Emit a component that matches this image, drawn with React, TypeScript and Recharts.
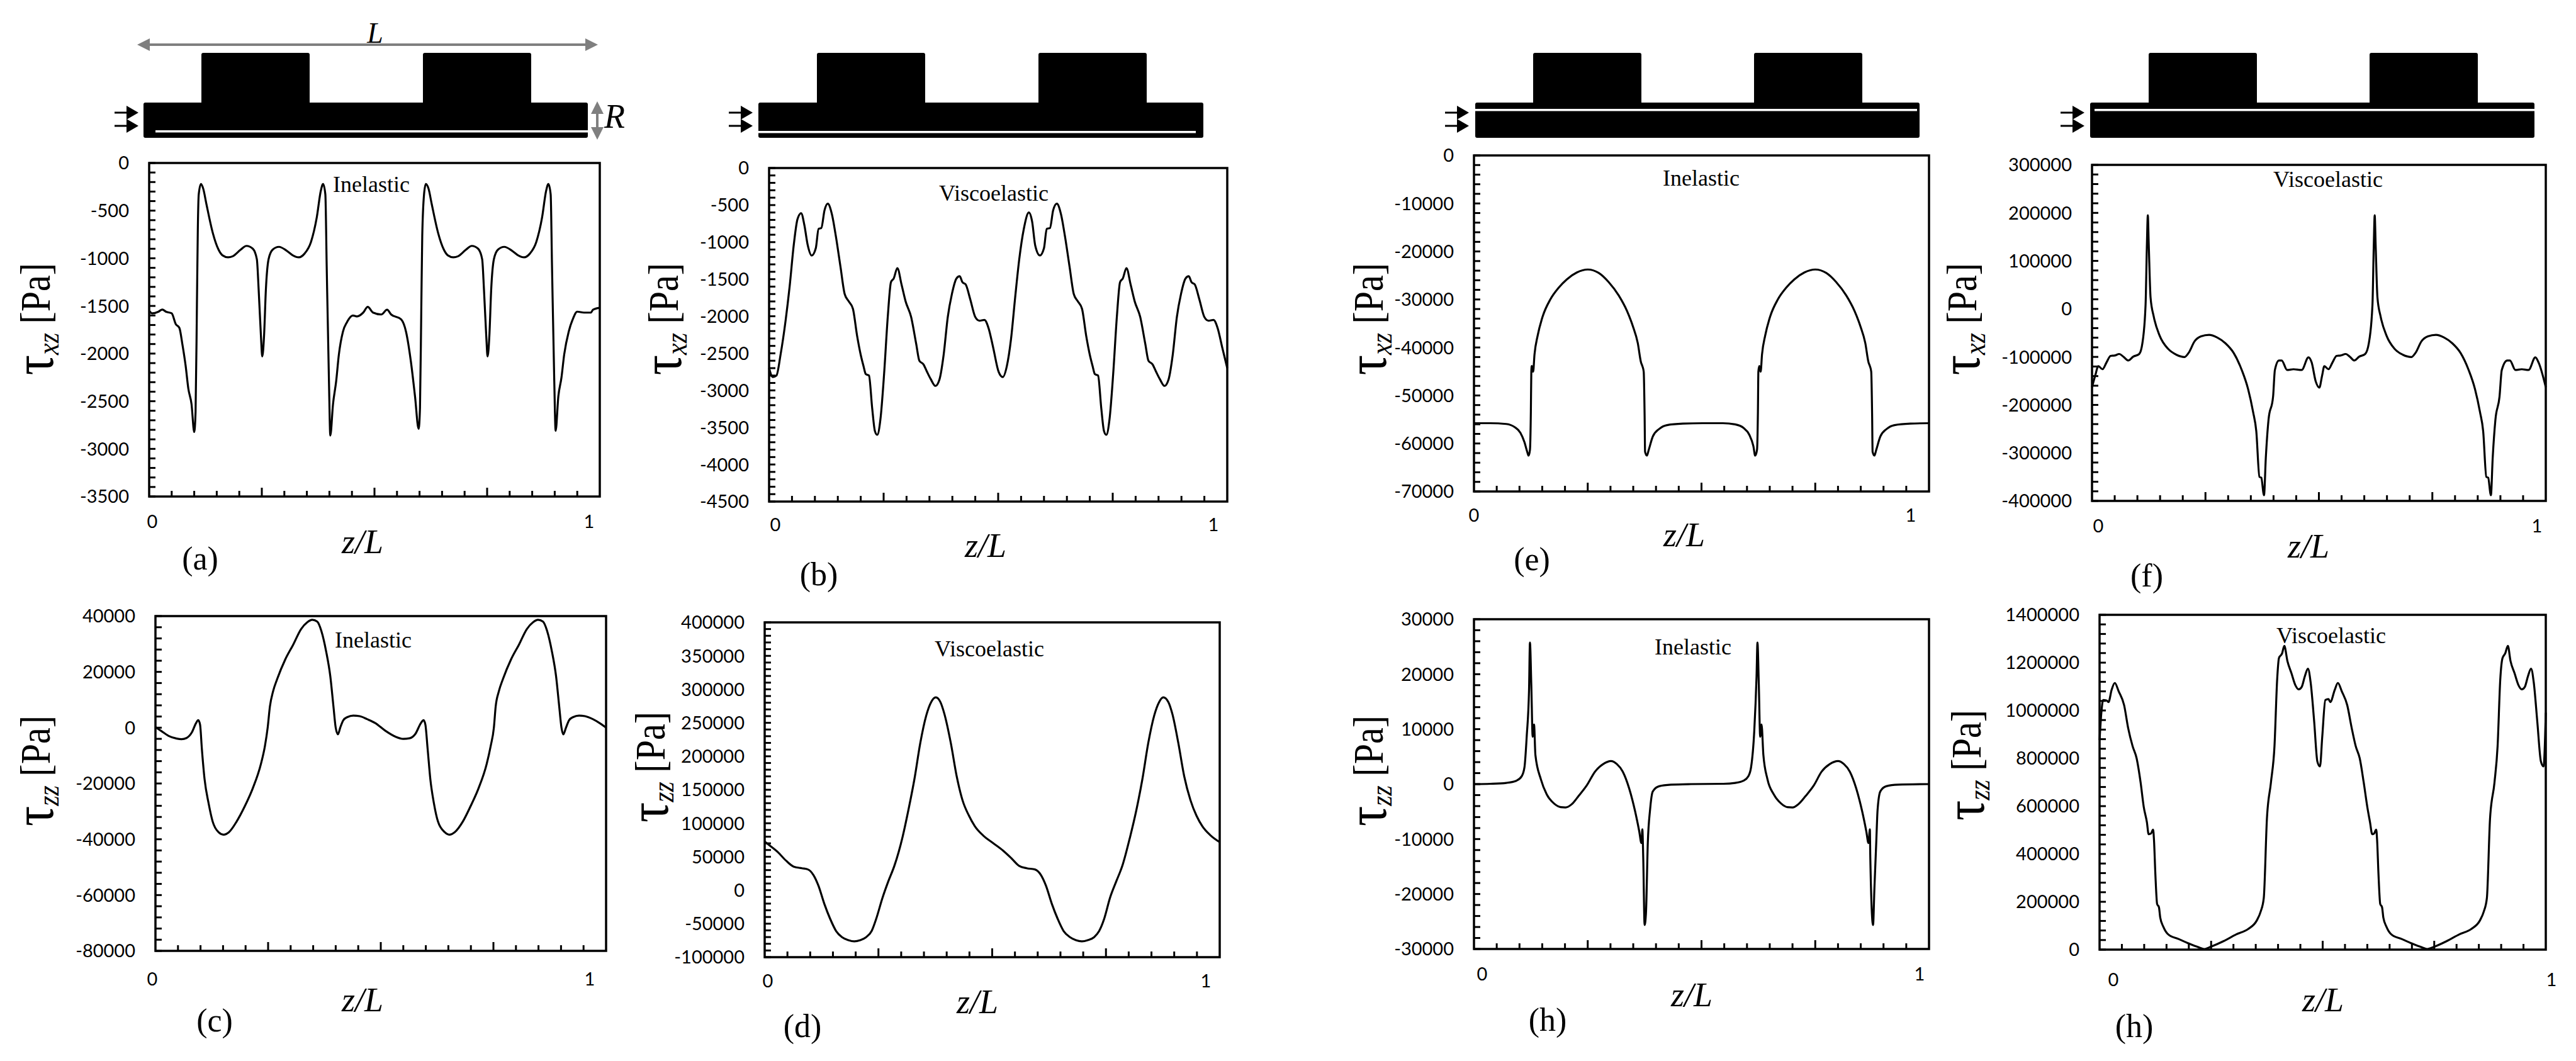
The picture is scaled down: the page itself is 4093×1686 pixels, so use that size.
import React from "react";
import { LineChart, Line, XAxis, YAxis, ReferenceArea } from "recharts";

const zA = [0,.007,.02,.029,.038,.05,.059,.067,.074,.081,.087,.094,.1,.103,.106,.108,.11,.115,.12,.127,.141,.154,.163,.175,.185,.203,.216,.23,.239,.243,.248,.251,.255,.259,.265,.274,.288,.305,.319,.332,.345,.359,.372,.381,.386,.391,.394,.399,.402,.408,.415,.421,.43,.439,.452,.461,.475,.485,.497,.515,.528,.537,.559,.57,.581,.59,.598,.601,.604,.606,.61,.614,.62,.627,.641,.654,.663,.675,.685,.703,.716,.73,.739,.743,.748,.751,.755,.759,.765,.774,.788,.805,.819,.832,.845,.859,.872,.881,.886,.891,.894,.899,.902,.908,.915,.921,.931,.94,.95,.965,.98,.985,1];
const tauA = [-1550,-1578,-1562,-1538,-1562,-1578,-1690,-1730,-1910,-2130,-2370,-2530,-2823,-2610,-1490,-690,-330,-220,-270,-430,-730,-910,-970,-990,-980,-910,-870,-900,-1010,-1330,-1810,-2030,-1810,-1330,-1010,-910,-880,-920,-970,-990,-950,-830,-570,-290,-220,-330,-1090,-2290,-2860,-2530,-2290,-2010,-1770,-1670,-1600,-1610,-1570,-1510,-1570,-1590,-1540,-1590,-1640,-1770,-2090,-2450,-2790,-2570,-1490,-770,-330,-220,-270,-430,-730,-910,-970,-990,-980,-910,-870,-900,-1010,-1330,-1810,-2030,-1810,-1330,-1010,-910,-880,-920,-970,-990,-950,-830,-570,-290,-220,-330,-1090,-2290,-2810,-2450,-2250,-2010,-1770,-1640,-1560,-1570,-1570,-1540,-1520];

const zB = [0,.008,.016,.025,.036,.045,.054,.062,.07,.077,.084,.093,.102,.108,.114,.121,.128,.137,.146,.156,.165,.174,.183,.192,.2,.206,.211,.218,.225,.231,.236,.243,.251,.259,.266,.272,.28,.289,.298,.31,.321,.328,.337,.344,.353,.363,.372,.381,.39,.399,.409,.416,.422,.429,.439,.45,.459,.47,.479,.489,.501,.51,.519,.528,.537,.546,.556,.567,.574,.581,.591,.6,.606,.613,.62,.628,.637,.646,.656,.665,.674,.683,.692,.7,.706,.711,.718,.725,.731,.736,.743,.751,.759,.766,.772,.78,.789,.798,.81,.821,.828,.837,.844,.853,.863,.872,.881,.89,.899,.909,.916,.922,.929,.939,.95,.959,.97,.979,.989,1];
const tauB = [-2700,-2820,-2800,-2520,-2060,-1590,-1030,-690,-610,-770,-1030,-1180,-1080,-820,-810,-570,-480,-620,-930,-1340,-1700,-1800,-1900,-2260,-2520,-2670,-2780,-2800,-3240,-3550,-3600,-3390,-2780,-2010,-1540,-1490,-1350,-1570,-1800,-2010,-2370,-2600,-2650,-2740,-2850,-2940,-2850,-2520,-2010,-1700,-1490,-1460,-1540,-1570,-1770,-2010,-2060,-2050,-2160,-2420,-2750,-2820,-2670,-2310,-1750,-1230,-820,-600,-720,-1050,-1180,-1080,-820,-810,-570,-480,-620,-930,-1340,-1700,-1800,-1900,-2260,-2520,-2670,-2780,-2800,-3240,-3550,-3600,-3390,-2780,-2010,-1540,-1490,-1350,-1570,-1800,-2010,-2370,-2600,-2650,-2740,-2850,-2940,-2850,-2520,-2010,-1700,-1490,-1460,-1540,-1570,-1770,-2010,-2060,-2050,-2160,-2420,-2700];

const zC = [0,.012,.029,.047,.058,.069,.081,.09,.095,.099,.103,.109,.118,.127,.14,.151,.163,.18,.198,.216,.234,.243,.249,.254,.261,.27,.288,.306,.323,.337,.348,.359,.368,.379,.388,.395,.4,.405,.41,.417,.426,.439,.453,.47,.488,.51,.533,.55,.564,.577,.589,.595,.599,.604,.61,.618,.627,.642,.652,.664,.682,.699,.717,.735,.744,.751,.755,.762,.771,.789,.807,.824,.838,.849,.86,.869,.88,.889,.896,.901,.905,.911,.918,.927,.94,.953,.971,.989,1];
const tauC = [200,-1090,-2930,-3910,-4130,-3690,-1630,1630,2720,1090,-7600,-18460,-27150,-33670,-37470,-38340,-37470,-33670,-28240,-21720,-13030,-6520,0,7600,13030,17380,24440,29870,35300,37790,38660,38010,34750,27150,18460,7600,0,-2390,0,2720,3800,4340,4130,3040,1630,-1090,-3260,-4020,-3800,-2170,1630,2720,1090,-7600,-18460,-27150,-33670,-37470,-38340,-37470,-33670,-28240,-21720,-13030,-6520,0,7600,13030,17380,24440,29870,35300,37790,38660,38010,34750,27150,18460,7600,0,-2390,0,2720,3800,4340,4130,3040,1300,0];

const zD = [0,.011,.029,.047,.064,.082,.095,.107,.118,.131,.144,.157,.17,.184,.197,.21,.223,.235,.245,.259,.272,.285,.303,.316,.329,.342,.355,.366,.376,.386,.395,.409,.422,.435,.449,.462,.48,.502,.524,.542,.559,.576,.594,.607,.618,.631,.644,.657,.671,.684,.697,.71,.724,.735,.746,.759,.773,.786,.803,.817,.83,.843,.856,.867,.876,.887,.896,.909,.922,.936,.949,.962,.98,1];
const tauD = [72700,66800,56800,44100,35100,32800,31000,22800,7000,-20200,-42900,-61000,-70100,-74600,-76400,-74600,-70100,-61000,-42900,-11200,13800,36400,79500,120300,165600,220000,260800,281200,288000,281200,263100,220000,170100,133900,111200,95400,81800,70400,59100,47800,36400,32800,31000,22800,7000,-20200,-42900,-61000,-70100,-74600,-76400,-74600,-70100,-61000,-42900,-11200,13800,36400,79500,120300,165600,220000,260800,281200,288000,281200,263100,220000,170100,133900,111200,95400,81800,71800];

const zE = [0,.036,.071,.089,.102,.111,.117,.12,.123,.125,.126,.127,.13,.133,.14,.151,.168,.186,.204,.226,.25,.274,.296,.318,.336,.349,.36,.367,.37,.373,.375,.376,.38,.384,.393,.407,.424,.459,.503,.547,.574,.592,.605,.614,.618,.622,.624,.625,.627,.63,.633,.64,.651,.668,.686,.704,.726,.75,.774,.796,.818,.836,.849,.86,.867,.87,.873,.875,.876,.88,.884,.893,.907,.924,.959,1];
const tauE = [-55780,-55780,-55940,-56570,-57770,-59750,-61740,-62530,-61340,-53400,-45050,-43860,-45050,-41480,-37510,-33530,-29960,-27570,-25820,-24390,-23760,-24470,-26380,-29160,-32340,-35520,-39090,-43070,-43860,-45050,-54190,-61740,-62530,-61340,-58560,-56970,-56180,-55860,-55780,-55780,-56020,-56730,-58170,-60550,-62530,-61340,-53400,-45050,-43860,-45050,-41480,-37510,-33530,-29960,-27570,-25820,-24390,-23760,-24470,-26380,-29160,-32340,-35520,-39090,-43070,-43860,-45050,-54190,-61740,-62530,-61340,-58560,-56970,-56180,-55860,-55780];

const zF = [0,.007,.014,.023,.032,.041,.05,.06,.069,.08,.091,.104,.111,.118,.121,.123,.125,.129,.136,.149,.168,.186,.204,.213,.226,.24,.258,.276,.294,.312,.33,.344,.355,.362,.369,.373,.379,.383,.389,.399,.403,.412,.418,.43,.444,.462,.477,.484,.493,.501,.507,.512,.521,.53,.539,.548,.559,.568,.578,.589,.602,.61,.618,.621,.623,.625,.629,.636,.649,.667,.685,.704,.713,.726,.74,.758,.776,.794,.812,.83,.844,.855,.862,.869,.873,.879,.883,.889,.898,.903,.915,.921,.933,.947,.962,.977,.984,1];
const tauF = [-163100,-139200,-119300,-125700,-111400,-97800,-97100,-93900,-99400,-107400,-99400,-93900,-71600,8000,135200,194900,135200,23900,-15900,-55700,-83500,-95500,-100200,-91500,-67600,-57300,-54100,-59700,-71600,-91500,-127300,-167100,-214800,-254600,-350000,-351600,-388200,-310200,-230700,-183000,-127300,-107400,-107400,-127300,-125700,-127300,-101000,-111400,-151100,-163900,-139200,-119300,-125700,-111400,-97800,-97100,-93900,-99400,-107400,-99400,-93900,-71600,8000,135200,194900,135200,23900,-15900,-55700,-83500,-95500,-100200,-91500,-67600,-57300,-54100,-59700,-71600,-91500,-127300,-167100,-214800,-254600,-350000,-351600,-388200,-310200,-230700,-183000,-127300,-107400,-107400,-127300,-125700,-127300,-101000,-111400,-163100];

const zG = [0,.036,.071,.093,.105,.111,.116,.121,.123,.126,.129,.132,.135,.147,.16,.176,.191,.201,.215,.23,.248,.266,.284,.301,.314,.327,.341,.354,.363,.368,.37,.372,.375,.378,.382,.387,.393,.407,.433,.477,.548,.574,.592,.603,.609,.616,.621,.623,.626,.629,.632,.636,.645,.659,.675,.689,.7,.713,.729,.747,.764,.782,.8,.813,.826,.84,.853,.862,.867,.87,.871,.877,.88,.884,.887,.893,.906,.932,1];
const tauG = [0,55,220,610,1440,3090,8840,17130,25750,18010,8620,10830,5300,880,-1880,-3540,-4200,-4250,-3650,-2150,-220,2270,3650,4200,3650,2270,-770,-4920,-8510,-10720,-8230,-13480,-25640,-23430,-10720,-4640,-1330,-390,-110,0,55,220,610,1440,3090,9720,19670,25750,18010,8620,10830,5300,880,-1880,-3540,-4200,-4250,-3650,-2150,-220,2270,3650,4200,3650,2270,-770,-4920,-8510,-10720,-8230,-13480,-25640,-19000,-10720,-4640,-1330,-390,-110,0];

const zH = [0,.004,.008,.016,.02,.027,.034,.043,.055,.064,.074,.083,.092,.099,.106,.11,.115,.12,.122,.125,.129,.133,.136,.143,.154,.177,.2,.223,.234,.25,.278,.306,.333,.352,.361,.368,.375,.384,.392,.398,.402,.409,.414,.421,.43,.439,.446,.453,.46,.467,.473,.481,.488,.494,.499,.506,.513,.517,.527,.534,.543,.555,.565,.574,.583,.592,.6,.606,.611,.615,.62,.622,.625,.629,.633,.636,.643,.654,.677,.7,.723,.734,.751,.778,.806,.833,.852,.861,.868,.875,.885,.892,.898,.903,.909,.915,.921,.93,.939,.946,.953,.96,.967,.973,.981,.989,.995,1];
const tauH = [876300,990600,1043900,1041400,1035000,1085900,1115100,1079500,1022400,927100,850900,800100,698500,596900,533400,482600,485100,501700,457200,317500,190500,177800,133400,95300,63500,44500,25400,8900,2500,12700,35600,63500,86400,120700,158800,215900,546100,698500,850900,1130300,1219200,1238300,1270000,1206500,1155700,1104900,1088400,1098600,1143000,1174800,1117600,952500,787400,765800,889000,1043900,1047800,1035000,1085900,1115100,1079500,1022400,927100,850900,800100,698500,596900,533400,482600,485100,501700,457200,317500,190500,177800,133400,95300,63500,44500,25400,8900,2500,12700,35600,63500,86400,120700,158800,215900,546100,698500,850900,1130300,1219200,1238300,1270000,1206500,1155700,1104900,1088400,1098600,1143000,1174800,1117600,952500,787400,765800,990600];

const SERIF = "'Liberation Serif', serif";
const SANS = "Lato, sans-serif";
const X_TICKS = Array.from({ length: 21 }, (_, i) => i / 20);

type P = {
  z: number[]; tau: number[]; min: number; max: number; minor: number; major: number;
  bx: number; by: number; bw: number; bh: number;
  x0: number; x1: number; xb: number;
  note: string; nx: number; ny: number;
  zx: number; zy: number; tag: string; tx: number; ty: number;
  sub: string; lx: number; ly: number;
};

const panels: P[] = [
  { z: zA, tau: tauA, min: -3500, max: 0, minor: 100, major: 500, bx: 237, by: 259, bw: 716, bh: 530, x0: 5, x1: -17, xb: 50, note: "Inelastic", nx: 590, ny: 305, zx: 576, zy: 879, tag: "(a)", tx: 318, ty: 905, sub: "xz", lx: 84, ly: 507 },
  { z: zB, tau: tauB, min: -4500, max: 0, minor: 100, major: 500, bx: 1222, by: 267, bw: 728, bh: 530, x0: 10, x1: -22, xb: 47, note: "Viscoelastic", nx: 1579, ny: 319, zx: 1566, zy: 885, tag: "(b)", tx: 1301, ty: 930, sub: "xz", lx: 1082, ly: 507 },
  { z: zC, tau: tauC, min: -80000, max: 40000, minor: 4000, major: 20000, bx: 247, by: 979, bw: 716, bh: 532, x0: -5, x1: -26, xb: 55, note: "Inelastic", nx: 593, ny: 1029, zx: 576, zy: 1607, tag: "(c)", tx: 341, ty: 1639, sub: "zz", lx: 84, ly: 1225 },
  { z: zD, tau: tauD, min: -100000, max: 400000, minor: 10000, major: 50000, bx: 1215, by: 989, bw: 723, bh: 532, x0: 5, x1: -22, xb: 48, note: "Viscoelastic", nx: 1572, ny: 1043, zx: 1553, zy: 1610, tag: "(d)", tx: 1275, ty: 1648, sub: "zz", lx: 1061, ly: 1219 },
  { z: zE, tau: tauE, min: -70000, max: 0, minor: 2000, major: 10000, bx: 2342, by: 247, bw: 723, bh: 534, x0: 0, x1: -29, xb: 48, note: "Inelastic", nx: 2703, ny: 295, zx: 2676, zy: 868, tag: "(e)", tx: 2434, ty: 906, sub: "xz", lx: 2202, ly: 507 },
  { z: zF, tau: tauF, min: -400000, max: 300000, minor: 20000, major: 100000, bx: 3324, by: 262, bw: 721, bh: 534, x0: 10, x1: -14, xb: 50, note: "Viscoelastic", nx: 3699, ny: 297, zx: 3668, zy: 886, tag: "(f)", tx: 3411, ty: 932, sub: "xz", lx: 3145, ly: 507 },
  { z: zG, tau: tauG, min: -30000, max: 30000, minor: 2000, major: 10000, bx: 2342, by: 984, bw: 723, bh: 524, x0: 13, x1: -15, xb: 50, note: "Inelastic", nx: 2690, ny: 1040, zx: 2688, zy: 1599, tag: "(h)", tx: 2459, ty: 1638, sub: "zz", lx: 2202, ly: 1225 },
  { z: zH, tau: tauH, min: 0, max: 1400000, minor: 40000, major: 200000, bx: 3336, by: 977, bw: 709, bh: 532, x0: 22, x1: 9, xb: 58, note: "Viscoelastic", nx: 3704, ny: 1022, zx: 3691, zy: 1607, tag: "(h)", tx: 3391, ty: 1648, sub: "zz", lx: 3152, ly: 1216 },
];

type S = { bx: number; bw: number; b1: number; b2: number; wx: number; ww: number; wy: number; ax: number };
const schematics: S[] = [
  { bx: 228, bw: 706, b1: 320, b2: 672, wx: 247, ww: 687, wy: 207, ax: 182 },
  { bx: 1205, bw: 707, b1: 1298, b2: 1650, wx: 1205, ww: 695, wy: 208, ax: 1158 },
  { bx: 2344, bw: 706, b1: 2436, b2: 2787, wx: 2344, ww: 702, wy: 173, ax: 2296 },
  { bx: 3321, bw: 706, b1: 3414, b2: 3765, wx: 3328, ww: 699, wy: 173, ax: 3274 },
];

function Panel({ p }: { p: P }) {
  const data = p.z.map((z, i) => ({ z, tau: p.tau[i] }));
  const yTicks: number[] = [];
  for (let v = p.min; v <= p.max; v += p.minor) yTicks.push(v);
  const left = 170;
  const top = 30;
  const right = 30;
  const axisH = 70;
  const xTick = (t: any) => {
    const v = t.payload.value;
    const i = Math.round(v * 20);
    const len = i % 5 === 0 ? 14 : 9;
    const lab = v === 0 ? "0" : v === 1 ? "1" : null;
    const dx = v === 0 ? p.x0 : p.x1;
    return (
      <g>
        {i > 0 && i < 20 && <line x1={t.x} x2={t.x} y1={t.y} y2={t.y - len} stroke="#000" strokeWidth={3} />}
        {lab && <text x={t.x + dx} y={t.y + p.xb} textAnchor="middle" fontFamily={SANS} fontSize={29} fill="#000">{lab}</text>}
      </g>
    );
  };
  const yTick = (t: any) => {
    const v = t.payload.value;
    return (
      <g>
        <line x1={t.x} x2={t.x + 10} y1={t.y} y2={t.y} stroke="#000" strokeWidth={3} />
        {v % p.major === 0 && (
          <text x={t.x - 32} y={t.y} dy="0.36em" textAnchor="end" fontFamily={SANS} fontSize={29} fill="#000">{String(v)}</text>
        )}
      </g>
    );
  };
  return (
    <div style={{ position: "absolute", left: p.bx - left, top: p.by - top }}>
      <LineChart
        width={p.bw + left + right}
        height={p.bh + top + axisH}
        data={data}
        margin={{ left: 0, right, top, bottom: 0 }}
      >
        <XAxis dataKey="z" type="number" domain={[0, 1]} ticks={X_TICKS} interval={0} height={axisH} axisLine={false} tickLine={false} tickSize={0} tickMargin={0} tick={xTick} />
        <YAxis type="number" domain={[p.min, p.max]} ticks={yTicks} interval={0} width={left} axisLine={false} tickLine={false} tickSize={0} tickMargin={0} tick={yTick} />
        <ReferenceArea x1={0} x2={1} y1={p.min} y2={p.max} fill="none" stroke="#000" strokeWidth={3.5} fillOpacity={0} />
        <Line dataKey="tau" type="monotoneX" stroke="#000" strokeWidth={3.2} dot={false} isAnimationActive={false} />
      </LineChart>
    </div>
  );
}

function Schematic({ s }: { s: S }) {
  const arrow = (y: number) => (
    <g key={y}>
      <line x1={s.ax} x2={s.ax + 22} y1={y} y2={y} stroke="#000" strokeWidth={3} />
      <polygon points={`${s.ax + 19},${y - 11} ${s.ax + 38},${y} ${s.ax + 19},${y + 11}`} fill="#000" />
    </g>
  );
  return (
    <g>
      <rect x={s.b1} y={84} width={172} height={84} rx={3} fill="#000" />
      <rect x={s.b2} y={84} width={172} height={84} rx={3} fill="#000" />
      <rect x={s.bx} y={163} width={s.bw} height={56} rx={3} fill="#000" />
      <rect x={s.wx} y={s.wy} width={s.ww} height={3.5} fill="#fff" />
      {arrow(179)}
      {arrow(200)}
    </g>
  );
}

function Annotations() {
  const gray = "#7f7f7f";
  return (
    <svg width={4093} height={1686} style={{ position: "absolute", left: 0, top: 0, pointerEvents: "none" }}>
      {schematics.map((s) => <Schematic key={s.bx} s={s} />)}
      <line x1={228} x2={940} y1={71} y2={71} stroke={gray} strokeWidth={4} />
      <polygon points="218,71 238,61 238,81" fill={gray} />
      <polygon points="950,71 930,61 930,81" fill={gray} />
      <line x1={949} x2={949} y1={170} y2={212} stroke={gray} strokeWidth={4} />
      <polygon points="949,161 939,181 959,181" fill={gray} />
      <polygon points="949,222 939,202 959,202" fill={gray} />
      <text x={596} y={68} textAnchor="middle" fontFamily={SERIF} fontStyle="italic" fontSize={46} fill="#000">L</text>
      <text x={960} y={203} fontFamily={SERIF} fontStyle="italic" fontSize={54} fill="#000">R</text>
      {panels.map((p) => (
        <g key={p.bx}>
          <text x={p.nx} y={p.ny} textAnchor="middle" fontFamily={SERIF} fontSize={36} fill="#000">{p.note}</text>
          <text x={p.zx} y={p.zy} textAnchor="middle" fontFamily={SERIF} fontStyle="italic" fontSize={54} fill="#000">z/L</text>
          <text x={p.tx} y={p.ty} textAnchor="middle" fontFamily={SERIF} fontSize={52} fill="#000">{p.tag}</text>
          <text transform={`translate(${p.lx} ${p.ly}) scale(1.15 1) rotate(-90)`} x={0} y={0} textAnchor="middle" fontFamily={SERIF} fill="#000">
            <tspan fontSize={80}>τ</tspan>
            <tspan fontSize={42} fontStyle="italic" dy={8}>{p.sub}</tspan>
            <tspan fontSize={58} dy={-12}> [Pa]</tspan>
          </text>
        </g>
      ))}
    </svg>
  );
}

export default function App() {
  return (
    <div style={{ position: "absolute", left: 0, top: 0, width: 4093, height: 1686, background: "#fff", overflow: "hidden" }}>
      {panels.map((p) => <Panel key={p.bx} p={p} />)}
      <Annotations />
    </div>
  );
}
